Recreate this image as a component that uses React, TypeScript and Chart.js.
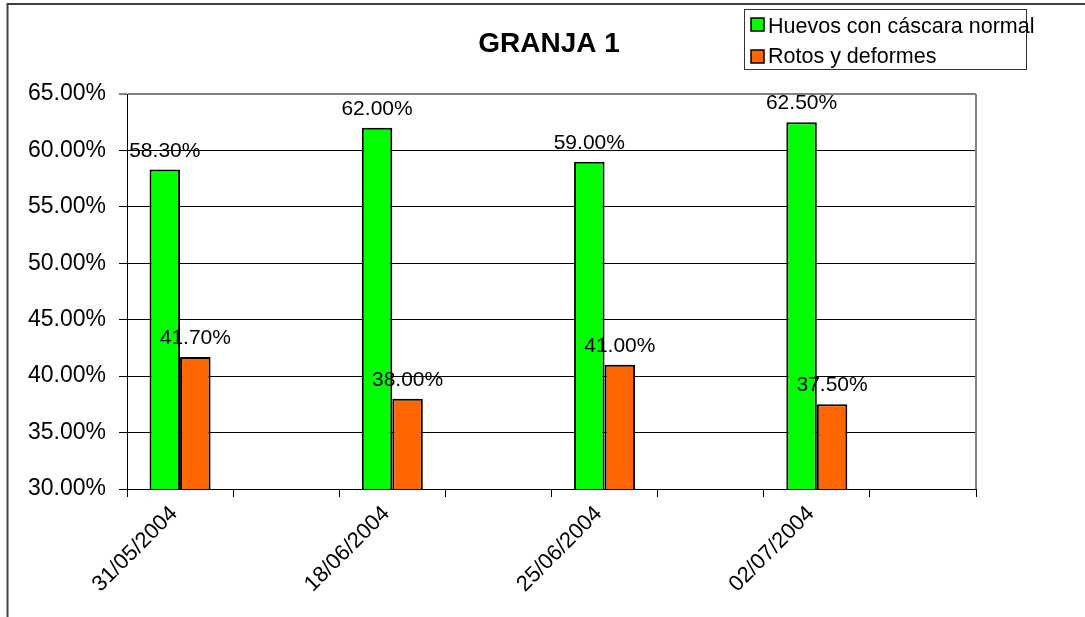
import React, { useEffect, useRef } from "react";
import { Chart, registerables } from "chart.js";

Chart.register(...registerables);

const categories = ["31/05/2004", "", "18/06/2004", "", "25/06/2004", "", "02/07/2004", ""];
const normalValues = [58.3, null, 62.0, null, 59.0, null, 62.5, null];
const brokenValues = [41.7, null, 38.0, null, 41.0, null, 37.5, null];
const seriesNames = ["Huevos con cáscara normal", "Rotos y deformes"];
const seriesColors = ["#00FF00", "#FF6600"];
const chartTitle = "GRANJA 1";
const yMin = 30;
const yMax = 65;
const yStep = 5;

const FONT = "'Liberation Sans', Arial, sans-serif";

const decorPlugin = {
  id: "decor",
  afterDraw(chart: any) {
    const ctx = chart.ctx;
    const area = chart.chartArea;
    ctx.save();
    // outer chart border
    ctx.strokeStyle = "#404040";
    ctx.lineWidth = 2;
    ctx.beginPath();
    ctx.moveTo(7.5, 617);
    ctx.lineTo(7.5, 4);
    ctx.lineTo(1085, 4);
    ctx.stroke();

    // plot area right border
    ctx.strokeStyle = "#808080";
    ctx.lineWidth = 2;
    ctx.beginPath();
    ctx.moveTo(Math.round(area.right), area.top);
    ctx.lineTo(Math.round(area.right), area.bottom);
    ctx.stroke();

    // title
    ctx.fillStyle = "#000";
    ctx.font = `bold 28px ${FONT}`;
    ctx.textAlign = "center";
    ctx.textBaseline = "alphabetic";
    ctx.fillText(chartTitle, 549, 52);

    // data labels
    ctx.font = `21px ${FONT}`;
    chart.data.datasets.forEach((ds: any, di: number) => {
      const meta = chart.getDatasetMeta(di);
      meta.data.forEach((el: any, i: number) => {
        const v = ds.data[i];
        if (v === null || v === undefined) return;
        ctx.fillText(v.toFixed(2) + "%", el.x, el.y - 13);
      });
    });

    // legend
    ctx.strokeStyle = "#333";
    ctx.lineWidth = 1;
    ctx.strokeRect(744.5, 9.5, 282, 60);
    ctx.font = `21.5px ${FONT}`;
    ctx.textAlign = "left";
    const rows = [18, 50];
    const baselines = [33, 63];
    seriesNames.forEach((name, i) => {
      ctx.fillStyle = seriesColors[i];
      ctx.fillRect(751, rows[i], 13, 13);
      ctx.strokeStyle = "#000";
      ctx.lineWidth = 1.5;
      ctx.strokeRect(751, rows[i], 13, 13);
      ctx.fillStyle = "#000";
      ctx.fillText(name, 768, baselines[i]);
    });
    ctx.restore();
  },
};

export default function App() {
  const ref = useRef<HTMLCanvasElement | null>(null);
  useEffect(() => {
    if (!ref.current) return;
    const chart = new Chart(ref.current, {
      type: "bar",
      data: {
        labels: categories,
        datasets: [
          {
            label: seriesNames[0],
            data: normalValues,
            backgroundColor: seriesColors[0],
            borderColor: "#000",
            borderWidth: 2,
            borderSkipped: false,
          },
          {
            label: seriesNames[1],
            data: brokenValues,
            backgroundColor: seriesColors[1],
            borderColor: "#000",
            borderWidth: 2,
            borderSkipped: false,
          },
        ],
      },
      options: {
        responsive: false,
        animation: false,
        devicePixelRatio: 1,
        layout: { padding: { top: 94, right: 109, left: 0, bottom: 0 } },
        datasets: {
          bar: { categoryPercentage: 0.575, barPercentage: 1 },
        },
        plugins: {
          legend: { display: false },
          title: { display: false },
          tooltip: { enabled: false },
        },
        scales: {
          x: {
            afterFit: (s: any) => {
              s.height = 128;
            },
            grid: {
              drawOnChartArea: false,
              drawTicks: true,
              tickLength: 8,
              color: "#000",
              offset: true,
            },
            border: { color: "#000", width: 1 },
            ticks: {
              autoSkip: false,
              maxRotation: 45,
              minRotation: 45,
              padding: 4,
              labelOffset: -6,
              color: "#000",
              font: { family: FONT, size: 22 },
            },
          },
          y: {
            min: yMin,
            max: yMax,
            afterFit: (s: any) => {
              s.width = 127;
            },
            grid: {
              color: (c: any) => (c.tick && c.tick.value === yMax ? "#808080" : "#000"),
              lineWidth: (c: any) => (c.tick && c.tick.value === yMax ? 2 : 1),
              tickLength: 8,
              drawTicks: true,
            },
            border: { color: "#000", width: 1 },
            ticks: {
              stepSize: yStep,
              padding: 13,
              color: "#000",
              font: { family: FONT, size: 23 },
              callback: (v: any) => Number(v).toFixed(2) + "%",
            },
          },
        },
      },
      plugins: [decorPlugin],
    });
    return () => chart.destroy();
  }, []);
  return (
    <div style={{ position: "fixed", left: 0, top: 0, width: 1085, height: 617, background: "#fff" }}>
      <canvas ref={ref} width={1085} height={617} style={{ display: "block" }} />
    </div>
  );
}
